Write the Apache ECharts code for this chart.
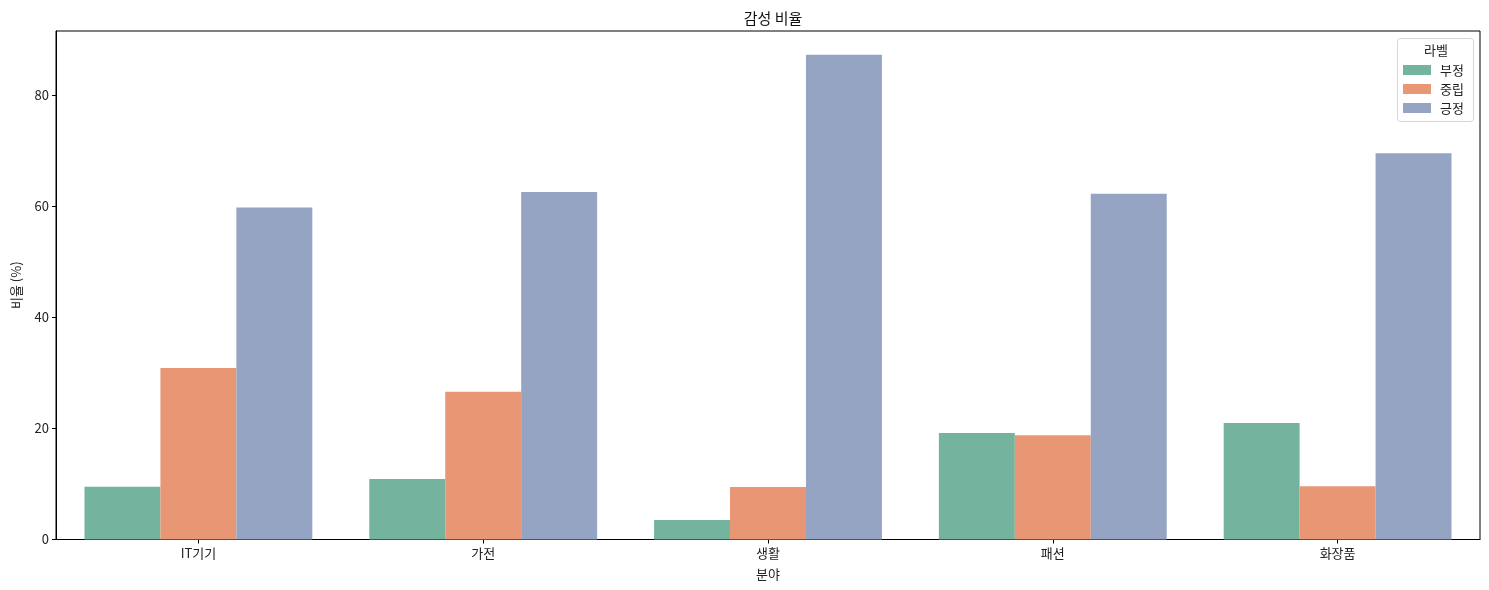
<!DOCTYPE html>
<html>
<head>
<meta charset="utf-8">
<script src="https://cdn.jsdelivr.net/npm/echarts@6/dist/echarts.min.js"></script>
<style>
html,body{margin:0;padding:0;background:#fff;}
#chart{width:1489px;height:590px;}
</style>
</head>
<body>
<div id="chart"></div>
<script>
const categories = ['IT기기', '가전', '생활', '패션', '화장품'];
const seriesNames = ['부정', '중립', '긍정'];
const negative = [9.5, 10.9, 3.5, 19.2, 21.0];
const neutral = [30.9, 26.6, 9.46, 18.8, 9.6];
const positive = [59.8, 62.6, 87.3, 62.3, 69.6];
const yTicks = [0, 20, 40, 60, 80];
const colors = ['#74b49f', '#e89673', '#95a4c2'];

const FONT = '"Noto Sans CJK KR", "Noto Sans", sans-serif';
const chart = echarts.init(document.getElementById('chart'), null, {renderer: 'canvas'});
const values = [negative, neutral, positive];

chart.setOption({
  animation: false,
  backgroundColor: '#fff',
  textStyle: {fontFamily: FONT},
  title: {
    text: '감성 비율',
    left: 768, top: 6, textAlign: 'center',
    textStyle: {fontFamily: FONT, fontSize: 15, fontWeight: 'normal', color: '#111'}
  },
  grid: {
    left: 56, right: 9, top: 31, bottom: 50.5,
    show: true, borderColor: '#000', borderWidth: 1, backgroundColor: 'transparent',
    containLabel: false,
    outerBoundsMode: 'none'
  },
  legend: {
    data: seriesNames,
    orient: 'vertical',
    left: 1403, top: 63,
    itemWidth: 28, itemHeight: 10, itemGap: 5,
    icon: 'rect',
    textStyle: {fontFamily: FONT, fontSize: 13, color: '#222', padding: [0, 0, 0, 4], lineHeight: 14},
    padding: 0
  },
  graphic: [
    {type: 'rect', shape: {x: 1397.5, y: 38.5, width: 76, height: 83, r: 3},
     style: {fill: 'rgba(255,255,255,0.8)', stroke: '#d6d6d6', lineWidth: 1}, z: 0},
    {type: 'text', x: 1436, y: 50, style: {text: '라벨', font: '13px ' + FONT, fill: '#222', textAlign: 'center', textVerticalAlign: 'middle'}, z: 10}
  ],
  xAxis: {
    type: 'category',
    data: categories,
    name: '분야',
    nameLocation: 'middle',
    nameGap: 28,
    nameTextStyle: {fontFamily: FONT, fontSize: 13, color: '#222'},
    axisLine: {show: true, lineStyle: {color: '#000', width: 1}},
    axisTick: {show: true, alignWithLabel: true, length: 4, lineStyle: {color: '#000'}},
    axisLabel: {fontFamily: FONT, fontSize: 13, color: '#222', margin: 7},
    splitLine: {show: false}
  },
  yAxis: {
    type: 'value',
    min: 0, max: 91.6,
    name: '비율 (%)',
    nameLocation: 'middle',
    nameGap: 33,
    nameTextStyle: {fontFamily: FONT, fontSize: 13, color: '#222'},
    axisLine: {show: true, lineStyle: {color: '#000', width: 1}},
    axisTick: {show: true, length: 4, lineStyle: {color: '#000'}, customValues: yTicks},
    axisLabel: {fontFamily: FONT, fontSize: 13, color: '#222', margin: 7, customValues: yTicks},
    splitLine: {show: false}
  },
  series: seriesNames.map((name, i) => ({
    name: name,
    type: 'bar',
    data: values[i],
    barGap: '0%',
    barCategoryGap: '20%',
    itemStyle: {color: colors[i]},
    z: 2
  }))
});
</script>
</body>
</html>
